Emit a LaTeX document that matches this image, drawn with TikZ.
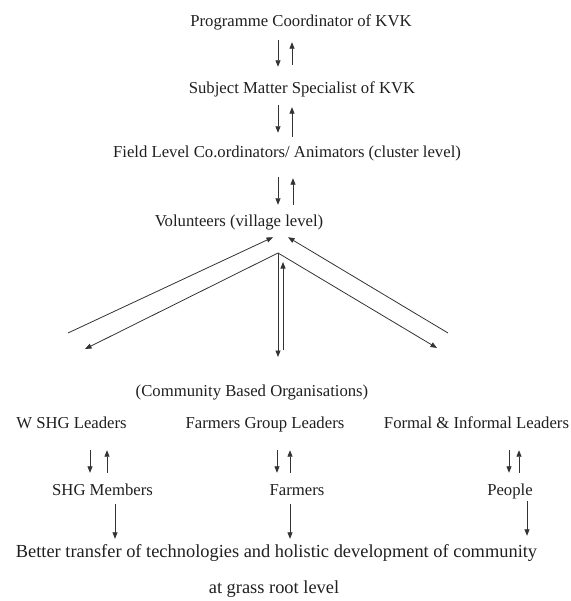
\documentclass[tikz,border=0pt]{standalone}
\usepackage{fontspec}
\setmainfont{Liberation Serif}
\usetikzlibrary{arrows.meta,calc}
\begin{document}
\begin{tikzpicture}[x=1pt,y=-1pt,
  lbl/.style={inner sep=0pt,text height=12pt,text depth=4pt,font=\fontsize{16.7}{18}\selectfont,text=black!88},
  big/.style={inner sep=0pt,text height=13pt,text depth=4.5pt,font=\fontsize{18.4}{20}\selectfont,text=black!88},
  ln/.style={draw=black!80,line width=0.8pt},
  arr/.style={ln,-{Triangle[length=6.5pt,width=5pt]}}]
\useasboundingbox (0,0) rectangle (570,601);
\node[lbl] (p1) at (301,23) {Programme Coordinator of KVK};
\node[lbl] (p2) at (302,90) {Subject Matter Specialist of KVK};
\node[lbl] (p3) at (287,154) {Field Level Co.ordinators/ Animators (cluster level)};
\node[lbl] (p4) at (239,223) {Volunteers (village level)};
\node[lbl] (cbo) at (252,392) {(Community Based Organisations)};
\node[lbl] (l1) at (71.5,424) {W SHG Leaders};
\node[lbl] (l2) at (265,424) {Farmers Group Leaders};
\node[lbl] (l3) at (476.5,424) {Formal \& Informal Leaders};
\node[lbl] (m1) at (102.5,491) {SHG Members};
\node[lbl] (m2) at (297,491) {Farmers};
\node[lbl] (m3) at (510,491) {People};
\node[big] (o1) at (276.5,553) {Better transfer of technologies and holistic development of community};
\node[big] (o2) at (274,589) {at grass root level};
% top chain
\draw[arr,shorten <=9pt,shorten >=15pt] ([xshift=-23pt]p1.south) -- ([xshift=-24pt]p2.north);
\draw[arr,shorten <=17pt,shorten >=11pt] ([xshift=-10pt]p2.north) -- ([xshift=-9pt]p1.south);
\draw[arr,shorten <=7pt,shorten >=13pt] ([xshift=-24pt]p2.south) -- ([xshift=-9pt]p3.north);
\draw[arr,shorten <=9pt,shorten >=9pt] ([xshift=5pt]p3.north) -- ([xshift=-10pt]p2.south);
\draw[arr,shorten <=15pt,shorten >=10pt] ([xshift=-9pt]p3.south) -- ([xshift=39pt]p4.north);
\draw[arr,shorten <=10pt,shorten >=16pt] ([xshift=54pt]p4.north) -- ([xshift=6pt]p3.south);
% fan
\coordinate (lo) at (68,333);
\coordinate (ro) at (448,333);
\coordinate (apex) at (278,253);
\coordinate (li) at (85,349);
\coordinate (ri) at (437,348);
\coordinate (vd) at (278,357);
\coordinate (vu) at (283,350);
\coordinate (vt) at (283,262);
\draw[arr] (lo) -- ($(p4.south)+(34,6)$);
\draw[arr] (ro) -- ($(p4.south)+(49,6)$);
\draw[arr] (apex) -- (li);
\draw[arr] (apex) -- (ri);
\draw[arr] (apex) -- (vd);
\draw[arr] (vu) -- (vt);
% leaders to members
\draw[arr,shorten <=18pt,shorten >=10pt] ([xshift=18.5pt]l1.south) -- ([xshift=-12.5pt]m1.north);
\draw[arr,shorten <=10pt,shorten >=18pt] ([xshift=4.5pt]m1.north) -- ([xshift=35.5pt]l1.south);
\draw[arr,shorten <=18pt,shorten >=10pt] ([xshift=12pt]l2.south) -- ([xshift=-20pt]m2.north);
\draw[arr,shorten <=10pt,shorten >=18pt] ([xshift=-7pt]m2.north) -- ([xshift=25pt]l2.south);
\draw[arr,shorten <=18pt,shorten >=10pt] ([xshift=32.5pt]l3.south) -- ([xshift=-1pt]m3.north);
\draw[arr,shorten <=10pt,shorten >=18pt] ([xshift=9pt]m3.north) -- ([xshift=42.5pt]l3.south);
% members to outcome
\draw[arr,shorten <=5pt,shorten >=5.25pt] ([xshift=12.5pt]m1.south) -- ([xshift=-161.5pt]o1.north);
\draw[arr,shorten <=5pt,shorten >=5.25pt] ([xshift=-7pt]m2.south) -- ([xshift=13.5pt]o1.north);
\draw[arr,shorten <=2pt,shorten >=8.25pt] ([xshift=17pt]m3.south) -- ([xshift=250.5pt]o1.north);
\end{tikzpicture}
\end{document}
